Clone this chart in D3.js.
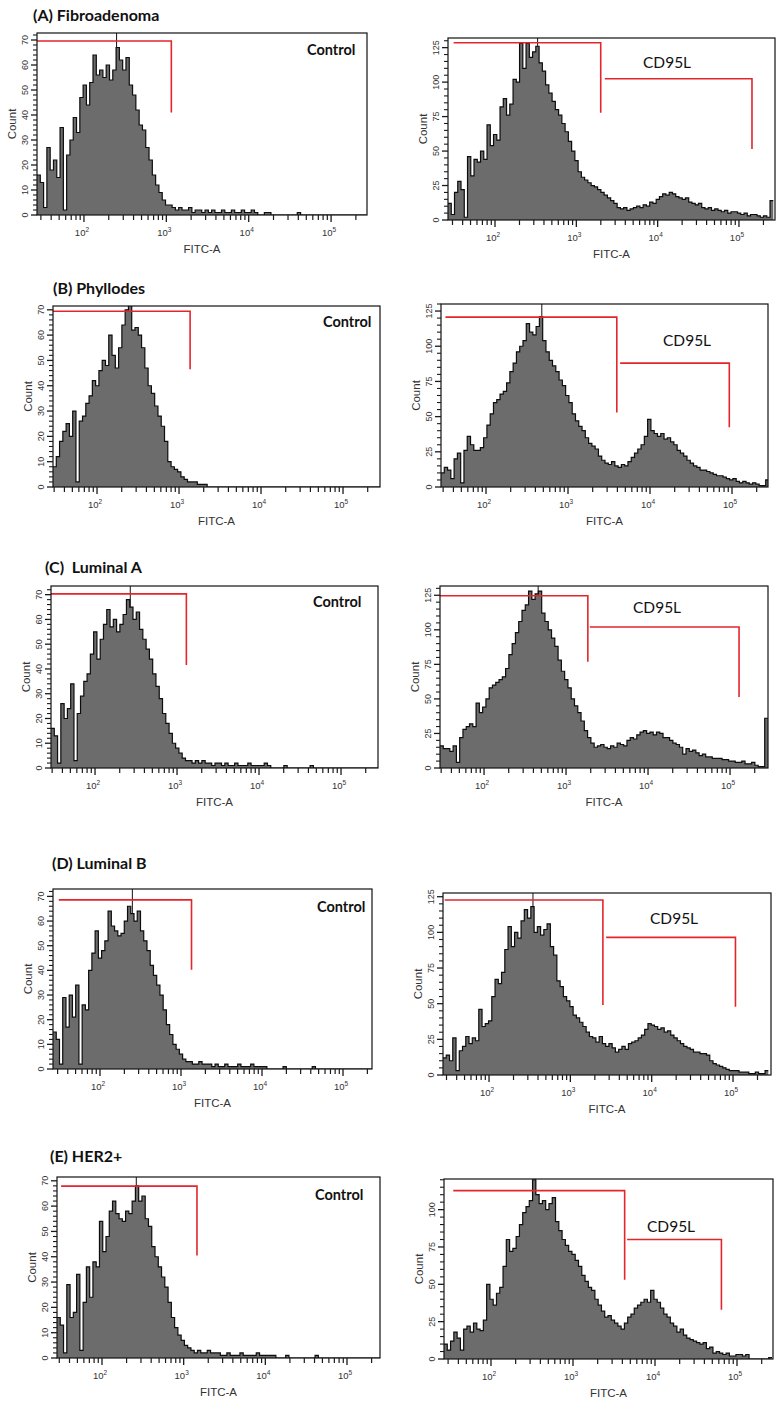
<!DOCTYPE html>
<html><head><meta charset="utf-8">
<script src="https://cdn.jsdelivr.net/npm/d3@7"></script>
<style>body{margin:0;background:#fff}svg{display:block}</style>
</head><body>
<svg id="chart" width="779" height="1406"></svg>
<script>
// ---------------- DATA ----------------
const tumourTypes = ["(A) Fibroadenoma", "(B) Phyllodes", "(C)  Luminal A", "(D) Luminal B", "(E) HER2+"];
const conditions = ["Control", "CD95L"];
const xAxisTitle = "FITC-A";
const yAxisTitle = "Count";
const decadeTicks = [100, 1000, 10000, 100000];
const decadeExponents = ["2", "3", "4", "5"];
const minorMultipliers = [2, 3, 4, 5, 6, 7, 8, 9];
const controlYTicks = [0, 10, 20, 30, 40, 50, 60, 70];
const cd95lYTicks = [0, 25, 50, 75, 100, 125];
const binLogWidth = 0.04; // histogram channels, log10(FITC) units

// counts per channel (100 channels each)
const fibroControl = [16,13,3,27,18,22,15,35,2,24, 30,39,33,47,52,44,53,64,56,58, 55,60,54,58,67,62,58,63,52,48, 42,36,34,27,22,16,12,9,6,4, 4,3,2,3,2,2,3,1,2,2, 1,2,1,2,1,1,2,1,1,2, 1,1,2,1,1,2,1,0,0,1, 1,0,0,0,0,0,0,0,0,1, 0,0,0,0,0,0,0,0,0,0, 0,0,0,0,0,0,0,0,0,0];
const fibroCD95L = [12,4,20,28,22,2,46,32,44,42, 50,44,69,54,62,58,82,88,76,84, 102,100,128,110,128,118,122,126,114,108, 98,92,86,80,76,70,64,57,50,43, 35,31,29,27,25,24,22,20,18,16, 14,12,9,8,9,7,8,9,10,9, 11,10,13,12,15,17,19,18,20,19, 17,16,15,16,13,12,11,12,9,8, 9,7,8,7,6,7,5,6,6,5, 4,5,3,4,4,3,2,3,2,14];
const phyllControl = [8,12,18,22,25,20,30,2,26,28, 33,36,42,40,46,50,48,60,52,47, 55,64,70,72,62,63,60,55,47,40, 37,32,28,24,18,10,8,7,6,4, 3,2,2,2,1,1,1,0,0,0, 0,0,0,0,0,0,0,0,0,0, 0,0,0,0,0,0,0,0,0,0, 0,0,0,0,0,0,0,0,0,0, 0,0,0,0,0,0,0,0,0,0, 0,0,0,0,0,0,0,0,0,0];
const phyllCD95L = [10,14,12,6,20,24,3,26,36,30, 26,26,28,35,44,52,60,62,66,68, 74,82,88,96,100,104,116,110,108,114, 121,104,96,90,86,82,76,72,65,60, 52,47,43,40,35,31,29,27,22,19, 17,16,18,15,14,16,15,18,21,24, 27,30,36,48,40,38,36,38,34,35, 32,30,26,24,22,19,17,15,14,12, 12,11,10,9,8,8,7,6,5,6, 4,3,4,3,2,3,2,1,1,5];
const lumAControl = [16,13,2,26,20,24,34,3,22,29, 35,38,46,55,44,52,58,64,57,60, 55,58,62,68,65,60,63,56,52,48, 44,38,33,28,22,18,14,10,8,6, 4,3,3,2,3,2,3,2,2,1, 2,2,1,2,1,1,2,1,1,1, 2,1,1,1,1,2,1,0,0,0, 0,1,0,0,0,0,0,0,0,1, 0,0,0,0,0,0,0,0,0,0, 0,0,0,0,0,0,0,0,0,0];
const lumACD95L = [16,14,14,12,16,4,22,28,30,32, 30,47,40,44,50,58,60,62,64,66, 72,82,90,98,106,114,118,128,122,126, 128,112,106,100,94,88,78,70,64,58, 50,45,40,34,27,22,18,15,16,17, 15,14,16,15,18,17,16,20,22,21, 24,26,27,25,26,24,26,25,22,22, 20,18,17,15,10,14,12,13,11,9, 10,8,8,7,7,7,6,6,5,5, 4,4,5,3,3,4,2,1,1,36];
const lumBControl = [15,12,2,29,17,30,21,34,2,26, 24,40,47,56,45,48,52,64,58,56, 54,55,60,66,63,60,64,56,52,48, 42,38,34,30,24,18,14,10,8,6, 4,3,3,2,2,3,2,2,2,1, 2,1,1,2,1,1,1,2,1,1, 1,2,1,1,1,1,0,0,0,0, 0,1,0,0,0,0,0,0,0,0, 1,0,0,0,0,0,0,0,0,0, 0,0,0,0,0,0,0,0,0,0];
const lumBCD95L = [12,14,10,26,3,17,20,27,22,26, 24,46,34,36,38,55,67,64,72,88, 104,90,100,96,108,116,110,118,100,104, 98,102,106,90,84,66,62,55,52,48, 42,40,37,34,30,27,26,23,27,22, 20,22,19,16,18,20,18,22,23,24, 26,28,32,36,35,34,32,33,30,31, 28,26,24,22,20,19,18,16,16,15, 15,14,10,8,7,6,5,4,3,3, 3,2,2,2,1,1,2,1,1,3];
const her2Control = [16,13,2,29,16,18,33,3,22,36, 24,38,36,54,42,48,58,62,57,55, 54,58,57,62,68,62,64,55,52,44, 40,36,32,28,22,16,12,9,7,5, 4,3,2,3,2,2,3,2,2,2, 1,1,2,1,1,1,2,1,1,1, 1,2,1,1,1,1,1,0,0,0, 1,0,0,0,0,0,0,0,0,1, 0,0,0,0,0,0,0,0,0,0, 0,0,0,0,0,0,0,0,0,0];
const her2CD95L = [10,6,12,18,14,6,20,22,18,24, 20,19,26,50,40,36,44,48,62,80, 72,74,82,90,98,102,106,120,110,104, 106,100,104,108,92,86,80,76,72,70, 66,62,56,52,48,46,40,36,32,28, 29,26,24,22,20,24,28,30,34,36, 38,40,38,46,40,38,34,30,28,24, 22,18,20,16,14,13,12,11,10,11, 7,8,4,5,4,3,4,2,2,3, 3,2,3,0,0,0,0,0,0,1];

// gates: [FITC start, FITC end, count level, count at bottom of drop]
const fibroControlGates = [[27, 1150, 69.6, 41]];
const fibroCD95LGates = [[31, 1995, 128.6, 77.7], [2239, 144544, 102.4, 51.5]];
const phyllControlGates = [[29, 1365, 69.4, 46.5]];
const phyllCD95LGates = [[32, 3936, 120.7, 52.9], [4325, 92683, 88, 42.4]];
const lumAControlGates = [[29, 1300, 70.3, 41.6]];
const lumACD95LGates = [[29, 1845, 124.6, 76.8], [1950, 128825, 102, 51.4]];
const lumBControlGates = [[31, 1349, 68.6, 40.3]];
const lumBCD95LGates = [[28.5, 2512, 122.7, 49], [2754, 107152, 96.5, 47.9]];
const her2ControlGates = [[31.6, 1455, 67.9, 40.5]];
const her2CD95LGates = [[34.7, 4266, 112.7, 53], [4571, 64565, 80, 33]];

// mode marker (FITC) per panel
const peakMarkers = [249, 334, 254, 479, 269, 457, 251, 347, 263, 347];

// ---------------- LAYOUT ----------------
const panels = [
  {cond:0, counts:fibroControl, gates:fibroControlGates, frame:[37,33,367,215], lo:1.43, hi:5.436, ymax:72.8, label:[307,55]},
  {cond:1, counts:fibroCD95L, gates:fibroCD95LGates, frame:[448,38,775,220], lo:1.422, hi:5.443, ymax:132, label:[643,68]},
  {cond:0, counts:phyllControl, gates:phyllControlGates, frame:[53,306,380,487], lo:1.463, hi:5.451, ymax:71.5, label:[323,327]},
  {cond:1, counts:phyllCD95L, gates:phyllCD95LGates, frame:[441,304,768,487], lo:1.451, hi:5.439, ymax:130, label:[663,346]},
  {cond:0, counts:lumAControl, gates:lumAControlGates, frame:[51,586,378,768], lo:1.463, hi:5.451, ymax:73.5, label:[313,607]},
  {cond:1, counts:lumACD95L, gates:lumACD95LGates, frame:[440,586,768,768], lo:1.463, hi:5.463, ymax:131.7, label:[633,613]},
  {cond:0, counts:lumBControl, gates:lumBControlGates, frame:[53,889,372,1069], lo:1.42, hi:5.358, ymax:73, label:[317,912]},
  {cond:1, counts:lumBCD95L, gates:lumBCD95LGates, frame:[443,893,771,1075], lo:1.434, hi:5.467, ymax:127.6, label:[650,924]},
  {cond:0, counts:her2Control, gates:her2ControlGates, frame:[57,1177,380,1358], lo:1.449, hi:5.404, ymax:71.5, label:[315,1200]},
  {cond:1, counts:her2CD95L, gates:her2CD95LGates, frame:[444,1179,773,1359], lo:1.427, hi:5.439, ymax:120.5, label:[647,1232]}
];
const titlePos = [[33,21],[53,294],[45,573],[52,869],[50,1162]];

const svg = d3.select("#chart");
const defs = svg.append("defs");
const tickFont = "'Liberation Sans', Arial, sans-serif";
const axisColor = "#1a1a1a";

svg.selectAll("text.title").data(tumourTypes).join("text")
  .attr("class","title")
  .attr("x",(d,i)=>titlePos[i][0]).attr("y",(d,i)=>titlePos[i][1])
  .attr("font-family","Lato, 'Open Sans', sans-serif").attr("font-weight",700)
  .attr("font-size",16).attr("fill","#111").style("white-space","pre")
  .text(d=>d);

panels.forEach((p, idx) => {
  const [L,T,R,B] = p.frame;
  const x = d3.scaleLog().domain([10**p.lo, 10**p.hi]).range([L,R]);
  const y = d3.scaleLinear().domain([0,p.ymax]).range([B,T]);
  const g = svg.append("g");
  const cid = "clip"+idx;
  defs.append("clipPath").attr("id",cid).append("rect")
    .attr("x",L).attr("y",T).attr("width",R-L).attr("height",B-T);
  const plot = g.append("g").attr("clip-path",`url(#${cid})`);

  // mode marker line
  plot.append("line")
    .attr("x1",x(peakMarkers[idx])).attr("x2",x(peakMarkers[idx]))
    .attr("y1",T).attr("y2",B).attr("stroke","#111").attr("stroke-width",1);

  const pts = p.counts.map((c,i)=>({f:10**(p.lo+binLogWidth*i), c}));
  pts.push({f:10**(p.lo+binLogWidth*p.counts.length), c:p.counts[p.counts.length-1]});
  const area = d3.area().x(d=>x(d.f)).y0(y(0)).y1(d=>y(d.c)).curve(d3.curveStepAfter);
  const line = d3.line().x(d=>x(d.f)).y(d=>y(d.c)).curve(d3.curveStepAfter);
  plot.append("path").datum(pts).attr("d",area).attr("fill","#6c6c6c");
  plot.append("path").datum(pts).attr("d",line).attr("fill","none")
    .attr("stroke","#0d0d0d").attr("stroke-width",1.2).attr("stroke-linejoin","miter");

  // gates
  p.gates.forEach(gt => {
    const [f0,f1,lvl,drop] = gt;
    g.append("path")
      .attr("d", d3.line()([[x(f0),y(lvl)],[x(f1),y(lvl)],[x(f1),y(drop)]]))
      .attr("fill","none").attr("stroke","#e3262b").attr("stroke-width",1.6);
  });

  // frame
  g.append("rect").attr("x",L).attr("y",T).attr("width",R-L).attr("height",B-T)
    .attr("fill","none").attr("stroke","#111").attr("stroke-width",1.2);

  // x axis ticks (explicit lines through the scale)
  const [d0,d1] = x.domain();
  const minorX = [];
  [10,100,1000,10000,100000].forEach(dec => minorMultipliers.forEach(k => {
    const v = dec*k; if (v>=d0 && v<=d1) minorX.push(v);
  }));
  g.selectAll("line.xminor").data(minorX).join("line")
    .attr("x1",d=>x(d)).attr("x2",d=>x(d)).attr("y1",B).attr("y2",B+5)
    .attr("stroke",axisColor).attr("stroke-width",1.2);
  g.selectAll("line.xmajor").data(decadeTicks).join("line")
    .attr("x1",d=>x(d)).attr("x2",d=>x(d)).attr("y1",B).attr("y2",B+7)
    .attr("stroke",axisColor).attr("stroke-width",1.3);
  const xl = g.selectAll("text.xl").data(decadeTicks).join("text")
    .attr("x",d=>x(d)-2).attr("y",B+21)
    .attr("font-family",tickFont).attr("font-size",9.5).attr("fill","#333")
    .attr("text-anchor","middle");
  xl.append("tspan").text("10");
  xl.append("tspan").attr("dy",-4).attr("font-size",6.5).text((d,i)=>decadeExponents[i]);
  g.append("text").attr("x",(L+R)/2).attr("y",B+38)
    .attr("font-family",tickFont).attr("font-size",11.5).attr("fill","#333")
    .attr("text-anchor","middle").text(xAxisTitle);

  // y axis ticks
  const yt = p.cond===0 ? controlYTicks : cd95lYTicks;
  const step = p.cond===0 ? 2 : 5;
  const minorY = d3.range(0, p.ymax+0.001, step).filter(v=>!yt.includes(v));
  g.selectAll("line.yminor").data(minorY).join("line")
    .attr("x1",L-4).attr("x2",L).attr("y1",d=>y(d)).attr("y2",d=>y(d))
    .attr("stroke",axisColor).attr("stroke-width",1.1);
  const ytv = yt.filter(v=>v<=p.ymax);
  g.selectAll("line.ymajor").data(ytv).join("line")
    .attr("x1",L-6).attr("x2",L).attr("y1",d=>y(d)).attr("y2",d=>y(d))
    .attr("stroke",axisColor).attr("stroke-width",1.3);
  g.selectAll("text.yl").data(ytv).join("text")
    .attr("transform",d=>`translate(${L-9},${y(d)}) rotate(-90)`)
    .attr("font-family",tickFont).attr("font-size",9).attr("fill","#333")
    .attr("text-anchor","middle").text(d=>d);
  g.append("text").attr("transform",`translate(${L-21},${(T+B)/2}) rotate(-90)`)
    .attr("font-family",tickFont).attr("font-size",11.5).attr("fill","#333")
    .attr("text-anchor","middle").text(yAxisTitle);

  // condition label
  g.append("text").attr("x",p.label[0]).attr("y",p.label[1])
    .attr("font-family","Lato, 'Open Sans', sans-serif")
    .attr("font-weight",p.cond===0?700:400).attr("font-size",p.cond===0?14.5:15.5)
    .attr("fill","#111").text(conditions[p.cond]);
});
</script>
</body></html>
